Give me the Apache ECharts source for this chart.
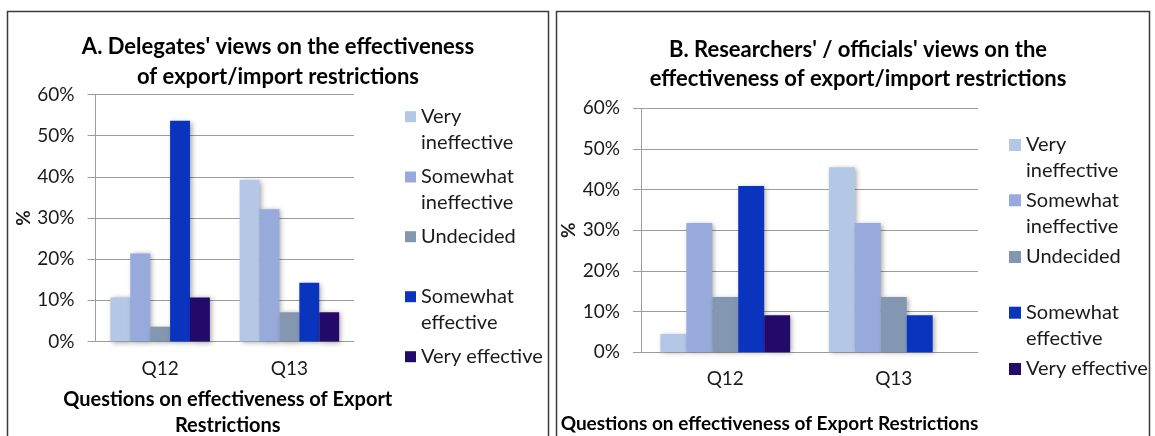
<!DOCTYPE html>
<html>
<head>
<meta charset="utf-8">
<script src="https://cdn.jsdelivr.net/npm/echarts@6/dist/echarts.min.js"></script>
<style>
  html, body { margin: 0; padding: 0; background: #ffffff; }
  #chart { width: 1155px; height: 436px; }
</style>
</head>
<body>
<div id="chart"></div>
<script>
// ---- data -------------------------------------------------------------
const categories = ['Q12', 'Q13'];
const responses = ['Very ineffective', 'Somewhat ineffective', 'Undecided', 'Somewhat effective', 'Very effective'];
const yTicks = [0, 10, 20, 30, 40, 50, 60];

// A. Delegates (% of respondents)
const delegatesVeryIneffective     = [10.7, 39.3];
const delegatesSomewhatIneffective = [21.4, 32.1];
const delegatesUndecided           = [3.6, 7.1];
const delegatesSomewhatEffective   = [53.6, 14.3];
const delegatesVeryEffective       = [10.7, 7.1];

// B. Researchers / officials (% of respondents)
const researchersVeryIneffective     = [4.5, 45.5];
const researchersSomewhatIneffective = [31.8, 31.8];
const researchersUndecided           = [13.6, 13.6];
const researchersSomewhatEffective   = [40.9, 9.1];
const researchersVeryEffective       = [9.1, 0];

const titleA = "A. Delegates' views on the effectiveness\nof export/import restrictions";
const titleB = "B. Researchers' / officials' views on the\neffectiveness of export/import restrictions";
const xNameA = 'Questions on effectiveness of Export\nRestrictions';
const xNameB = 'Questions on effectiveness of Export Restrictions';
const yName = '%';

// ---- styling / layout -------------------------------------------------
const palette = ['#B4C7E7', '#98AADB', '#8497B0', '#0A34BE', '#22096A'];
const FONT = 'Lato, "Open Sans", sans-serif';
const TEXT = '#1a1a1a';
const GRID_LINE = '#9c9c9c';

const delegatesSeries = [delegatesVeryIneffective, delegatesSomewhatIneffective, delegatesUndecided,
                         delegatesSomewhatEffective, delegatesVeryEffective];
const researchersSeries = [researchersVeryIneffective, researchersSomewhatIneffective, researchersUndecided,
                           researchersSomewhatEffective, researchersVeryEffective];

// legend placement per panel: left edge of swatch, centre line of each entry
const legendA = { left: 405, centers: [116.7, 177, 236.7, 296.7, 356.7], lineHeight: 25.5, size: 11 };
const legendB = { left: 1009, centers: [145, 200.3, 257, 312.7, 369], lineHeight: 26, size: 12 };

// long entries break after their first word, swatch sits on the first line
function legendText(name) {
  const i = name.indexOf(' ');
  const wraps = name !== 'Very effective' && i > 0;
  return wraps ? ' \n' + name.slice(0, i) + '\n' + name.slice(i + 1) : name;
}

function buildLegends(cfg) {
  return responses.map((name, k) => {
    const wraps = legendText(name).indexOf('\n') >= 0;
    return {
      data: [name],
      orient: 'vertical',
      left: cfg.left,
      top: cfg.centers[k] - (wraps ? 1.5 : 0.5) * cfg.lineHeight,
      padding: 0,
      icon: 'rect',
      itemWidth: cfg.size,
      itemHeight: cfg.size,
      itemStyle: { shadowBlur: 0, shadowColor: 'transparent' },
      formatter: legendText,
      textStyle: { fontFamily: FONT, fontSize: 20, color: TEXT, lineHeight: cfg.lineHeight }
    };
  });
}

function yAxisFor(gridIndex, nameGap) {
  return {
    gridIndex: gridIndex,
    type: 'value',
    min: yTicks[0],
    max: yTicks[yTicks.length - 1],
    interval: yTicks[1] - yTicks[0],
    name: yName,
    nameLocation: 'middle',
    nameRotate: 90,
    nameGap: nameGap,
    nameTextStyle: { fontFamily: FONT, fontSize: 19, fontWeight: 'bold', color: TEXT },
    axisLine: { show: true, lineStyle: { color: GRID_LINE, width: 1 } },
    axisTick: { show: true, length: 8, lineStyle: { color: GRID_LINE } },
    axisLabel: { margin: 21, fontFamily: FONT, fontSize: 19, color: TEXT, formatter: v => v + '%' },
    splitLine: { show: true, lineStyle: { color: GRID_LINE, width: 1 } }
  };
}

function barSeries(values, axisIndex) {
  return values.map((data, k) => ({
    name: responses[k],
    type: 'bar',
    xAxisIndex: axisIndex,
    yAxisIndex: axisIndex,
    data: data,
    barGap: '0%',
    barCategoryGap: '23%',
    itemStyle: {
      color: palette[k],
      shadowColor: 'rgba(0,0,0,0.35)',
      shadowBlur: 5,
      shadowOffsetX: 2,
      shadowOffsetY: 1
    },
    emphasis: { disabled: true }
  }));
}

const option = {
  backgroundColor: '#ffffff',
  animation: false,
  title: [
    {
      text: titleA, left: 278, top: 31.7, padding: 0, textAlign: 'center',
      textStyle: { fontFamily: FONT, fontSize: 22, fontWeight: 'bold', color: '#000', lineHeight: 30 }
    },
    {
      text: titleB, left: 858, top: 36, padding: 0, textAlign: 'center',
      textStyle: { fontFamily: FONT, fontSize: 22, fontWeight: 'bold', color: '#000', lineHeight: 28.5 }
    }
  ],
  legend: buildLegends(legendA).concat(buildLegends(legendB)),
  grid: [
    { left: 95.5, top: 94.5, width: 258.5, height: 247, outerBoundsMode: 'none' },
    { left: 641, top: 108.3, width: 337, height: 244, outerBoundsMode: 'none' }
  ],
  xAxis: [
    {
      gridIndex: 0, type: 'category', data: categories,
      name: xNameA, nameLocation: 'middle', nameGap: 45.5,
      nameTextStyle: { fontFamily: FONT, fontSize: 20, fontWeight: 'bold', color: '#000', lineHeight: 26, padding: [0, 0, 0, 6] },
      axisLine: { show: true, lineStyle: { color: GRID_LINE } },
      axisTick: { show: false },
      axisLabel: { margin: 18, fontFamily: FONT, fontSize: 19, color: TEXT }
    },
    {
      gridIndex: 1, type: 'category', data: categories,
      name: xNameB, nameLocation: 'middle', nameGap: 58.7,
      nameTextStyle: { fontFamily: FONT, fontSize: 19, fontWeight: 'bold', color: '#000', lineHeight: 26, padding: [0, 80, 0, 0] },
      axisLine: { show: true, lineStyle: { color: GRID_LINE } },
      axisTick: { show: false },
      axisLabel: { margin: 17, fontFamily: FONT, fontSize: 19, color: TEXT }
    }
  ],
  yAxis: [yAxisFor(0, 62), yAxisFor(1, 62)],
  series: barSeries(delegatesSeries, 0).concat(barSeries(researchersSeries, 1)),
  graphic: [
    { type: 'rect', silent: true, z: -1,
      shape: { x: 7.5, y: 11.5, width: 541, height: 440 },
      style: { fill: 'none', stroke: '#3a3a3a', lineWidth: 1.5 } },
    { type: 'rect', silent: true, z: -1,
      shape: { x: 556.5, y: 11.5, width: 593, height: 440 },
      style: { fill: 'none', stroke: '#3a3a3a', lineWidth: 1.5 } }
  ]
};

const chart = echarts.init(document.getElementById('chart'), null, { renderer: 'canvas' });
chart.setOption(option);
</script>
</body>
</html>
